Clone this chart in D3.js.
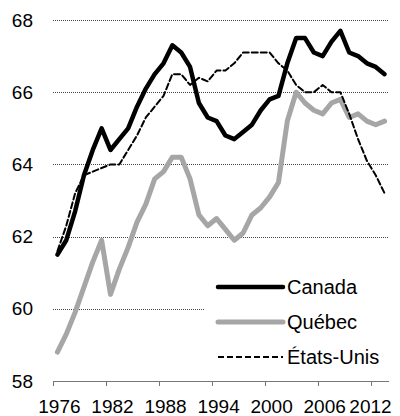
<!DOCTYPE html>
<html>
<head>
<meta charset="utf-8">
<script src="https://cdn.jsdelivr.net/npm/d3@7"></script>
<style>
  html, body { margin: 0; padding: 0; background: #fff; }
  svg { display: block; font-family: "Liberation Sans", Arial, sans-serif; }
</style>
</head>
<body>
<svg id="chart" width="400" height="416"></svg>
<script>
// Taux d'activité (%), 1976-2013
const years = d3.range(1976, 2014);
const canada = [61.5, 61.9, 62.7, 63.7, 64.4, 65.0, 64.4, 64.7, 65.0, 65.6,
                66.1, 66.5, 66.8, 67.3, 67.1, 66.7, 65.7, 65.3, 65.2, 64.8,
                64.7, 64.9, 65.1, 65.5, 65.8, 65.9, 66.8, 67.5, 67.5, 67.1,
                67.0, 67.4, 67.7, 67.1, 67.0, 66.8, 66.7, 66.5];
const quebec = [58.8, 59.3, 59.9, 60.6, 61.3, 61.9, 60.4, 61.1, 61.7, 62.4,
                62.9, 63.6, 63.8, 64.2, 64.2, 63.6, 62.6, 62.3, 62.5, 62.2,
                61.9, 62.1, 62.6, 62.8, 63.1, 63.5, 65.2, 66.0, 65.7, 65.5,
                65.4, 65.7, 65.8, 65.3, 65.4, 65.2, 65.1, 65.2];
const etatsUnis = [61.6, 62.3, 63.2, 63.7, 63.8, 63.9, 64.0, 64.0, 64.4, 64.8,
                   65.3, 65.6, 65.9, 66.5, 66.5, 66.2, 66.4, 66.3, 66.6, 66.6,
                   66.8, 67.1, 67.1, 67.1, 67.1, 66.8, 66.6, 66.2, 66.0, 66.0,
                   66.2, 66.0, 66.0, 65.4, 64.7, 64.1, 63.7, 63.2];
const yTicks = [58, 60, 62, 64, 66, 68];
const xTickYears = [1976, 1982, 1988, 1994, 2000, 2006, 2012];
const seriesNames = ["Canada", "Québec", "États-Unis"];

const svg = d3.select("#chart");
const plotLeft = 53, plotRight = 389, plotTop = 20, plotBottom = 381;

const x = d3.scaleBand().domain(years).range([plotLeft, plotRight]).padding(0);
const y = d3.scaleLinear().domain([58, 68]).range([plotBottom, plotTop]);
const cx = yr => x(yr) + x.bandwidth() / 2;

// horizontal dotted gridlines
svg.append("g")
  .selectAll("line")
  .data(yTicks.filter(v => v > 58))
  .join("line")
  .attr("x1", plotLeft).attr("x2", plotRight)
  .attr("y1", d => Math.round(y(d)) + 0.5).attr("y2", d => Math.round(y(d)) + 0.5)
  .attr("stroke", "#444")
  .attr("stroke-width", 1)
  .attr("stroke-dasharray", "1,1");

// y labels
svg.append("g")
  .selectAll("text")
  .data(yTicks)
  .join("text")
  .attr("x", 33)
  .attr("y", d => y(d))
  .attr("dy", "0.35em")
  .attr("text-anchor", "end")
  .attr("font-size", 19)
  .attr("fill", "#000")
  .text(d => d);

// x axis: ticks at category boundaries every 6 years
const xAxis = svg.append("g");
xAxis.append("line")
  .attr("x1", plotLeft).attr("x2", plotRight)
  .attr("y1", plotBottom + 0.5).attr("y2", plotBottom + 0.5)
  .attr("stroke", "#777").attr("stroke-width", 1);
xAxis.selectAll("line.tick")
  .data(xTickYears)
  .join("line")
  .attr("class", "tick")
  .attr("x1", d => Math.round(x(d)) + 0.5).attr("x2", d => Math.round(x(d)) + 0.5)
  .attr("y1", plotBottom).attr("y2", plotBottom + 5)
  .attr("stroke", "#777").attr("stroke-width", 1);
xAxis.selectAll("text")
  .data(xTickYears)
  .join("text")
  .attr("x", d => Math.min(cx(d) + 2, 370.5))
  .attr("y", 413)
  .attr("text-anchor", "middle")
  .attr("font-size", 19)
  .attr("fill", "#000")
  .text(d => d);

// legend background
svg.append("rect")
  .attr("x", 205).attr("y", 268).attr("width", 195).attr("height", 106)
  .attr("fill", "#fff");

const line = d3.line()
  .x((d, i) => cx(years[i]))
  .y(d => y(d))
  .curve(d3.curveLinear);

const styles = [
  { data: quebec, stroke: "#a6a6a6", width: 5, dash: null },
  { data: etatsUnis, stroke: "#000", width: 2, dash: "6,3" },
  { data: canada, stroke: "#000", width: 4.5, dash: null }
];

svg.append("g")
  .selectAll("path")
  .data(styles)
  .join("path")
  .attr("d", d => line(d.data))
  .attr("fill", "none")
  .attr("stroke", d => d.stroke)
  .attr("stroke-width", d => d.width)
  .attr("stroke-dasharray", d => d.dash)
  .attr("stroke-linejoin", "round")
  .attr("stroke-linecap", "round");

// legend
const legendItems = [
  { name: seriesNames[0], stroke: "#000", width: 4.5, dash: null },
  { name: seriesNames[1], stroke: "#a6a6a6", width: 5, dash: null },
  { name: seriesNames[2], stroke: "#000", width: 2, dash: "6,3" }
];
const lg = svg.append("g").selectAll("g")
  .data(legendItems)
  .join("g")
  .attr("transform", (d, i) => `translate(0, ${287 + i * 35})`);
lg.append("line")
  .attr("x1", 218).attr("x2", 283)
  .attr("y1", 0).attr("y2", 0)
  .attr("stroke", d => d.stroke)
  .attr("stroke-width", d => d.width)
  .attr("stroke-dasharray", d => d.dash)
  .attr("stroke-linecap", d => d.dash ? "butt" : "round");
lg.append("text")
  .attr("x", 287)
  .attr("y", 0)
  .attr("dy", "0.35em")
  .attr("font-size", 20)
  .attr("fill", "#000")
  .text(d => d.name);
</script>
</body>
</html>
